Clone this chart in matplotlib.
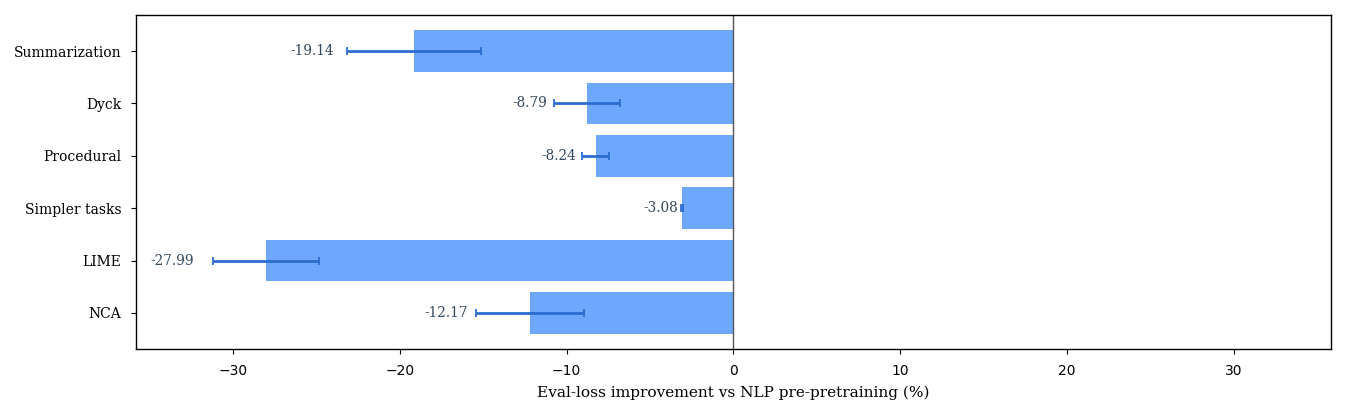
import matplotlib
matplotlib.use("Agg")
import matplotlib.pyplot as plt

categories = ["Summarization", "Dyck", "Procedural", "Simpler tasks", "LIME", "NCA"]
values = [-19.14, -8.79, -8.24, -3.08, -27.99, -12.17]
errors = [3.99, 1.97, 0.81, 0.04, 3.17, 3.23]
xticks = [-30, -20, -10, 0, 10, 20, 30]

plt.rcParams['font.family'] = ['DejaVu Serif']

fig = plt.figure(figsize=(13.47, 4.17), dpi=100)
ax = fig.add_axes([0.101, 0.163, 0.887, 0.801])

ypos = list(range(len(categories)))[::-1]
ax.barh(ypos, values, height=0.8, color="#6EA8FE",
        xerr=errors, ecolor="#2B6CD0", capsize=3,
        error_kw=dict(elinewidth=2, capthick=1.3))
ax.axvline(0, color="#555555", lw=1)

for y, v, e in zip(ypos, values, errors):
    ax.text(v - e - 0.04 * abs(v) - 0.05, y, f"{v:.2f}", ha="right", va="center",
            fontsize=9.8, color="#34495E")

ax.set_yticks(ypos)
ax.set_yticklabels(categories, fontsize=10)
ax.set_xticks(xticks)
ax.set_xticklabels([f"\u2212{abs(t)}" if t < 0 else str(t) for t in xticks],
                   fontsize=10, family="DejaVu Sans")
ax.tick_params(axis="both", pad=7)
ax.set_xlim(-35.8, 35.8)
ax.set_xlabel("Eval-loss improvement vs NLP pre-pretraining (%)", fontsize=11.1,
              labelpad=6)
for s in ax.spines.values():
    s.set_linewidth(1)

fig.savefig("out.png", dpi=100)
